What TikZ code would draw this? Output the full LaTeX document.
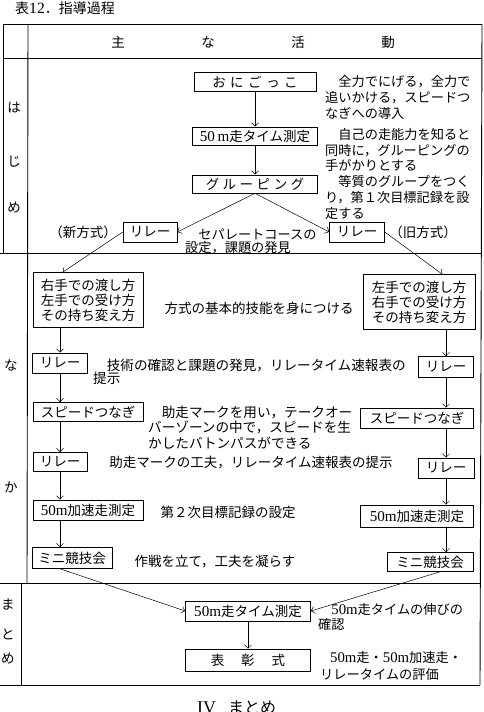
\documentclass[tikz,border=0pt]{standalone}
\usepackage{fontspec}
\setmainfont{Noto Sans CJK JP}
\newfontfamily\latf[Scale=1.12]{Liberation Serif}
\usetikzlibrary{arrows.meta}
\newcommand\gapsp[1]{\hspace{#1pt}}
\begin{document}
\begin{tikzpicture}[x=1pt,y=-1pt,
  tbl/.style={line width=0.9pt},
  bx/.style={draw,line width=0.6pt,inner sep=0pt,font=\fontsize{13.5}{15}\selectfont},
  txt/.style={inner sep=0pt,align=left,font=\fontsize{13.5}{16}\selectfont},
  arr/.style={line width=0.5pt,-{Straight Barb[length=3.5pt,width=7pt]}}]
\useasboundingbox (0,0) rectangle (484,712);
% table
\draw[tbl] (3,24) -- (482,24);
\draw[tbl] (3,24) -- (3,253);
\draw[tbl] (3,58) -- (482,58);
\draw[tbl] (0,253) -- (482,253);
\draw[tbl] (0,583) -- (481,583);
\draw[tbl] (0,685) -- (480,685);
\draw[tbl] (482,24) -- (480,685);
\draw[tbl] (28,24) -- (27,583);
\draw[tbl] (21,583) -- (21,685);
% title and headers
\node[txt,anchor=west,font=\fontsize{14}{16}\selectfont] (title) at (15,8) {表{\latf 12}．指導過程};
\node[txt] (h1) at (118,42) {主};
\node[txt] (h2) at (208,42) {な};
\node[txt] (h3) at (298,42) {活};
\node[txt] (h4) at (388,42) {動};
\node[txt] (s1) at (14,108) {は};
\node[txt] (s2) at (14,162) {じ};
\node[txt] (s3) at (14,208) {め};
\node[txt] (s4) at (11,365) {な};
\node[txt] (s5) at (11,487) {か};
\node[txt] (s6) at (8,604) {ま};
\node[txt] (s7) at (8,634) {と};
\node[txt] (s8) at (8,659) {め};
% boxes: hajime
\node[bx,minimum width=122,minimum height=19] (oni) at (255,82) {お\gapsp{4.5}に\gapsp{4.5}ご\gapsp{4.5}っ\gapsp{4.5}こ};
\node[bx,minimum width=125,minimum height=18] (t50a) at (255,136) {{\latf 50\,m}走タイム測定};
\node[bx,minimum width=125,minimum height=18] (grp) at (255,184) {グ\gapsp{3.5}ル\gapsp{3.5}ー\gapsp{3.5}ピ\gapsp{3.5}ン\gapsp{3.5}グ};
\node[bx,minimum width=54,minimum height=20] (relL) at (150,232) {リレー};
\node[bx,minimum width=55,minimum height=20] (relR) at (357,232) {リレー};
% boxes: naka left
\node[bx,minimum width=110,minimum height=55,align=center] (handL) at (88,300) {右手での渡し方\\左手での受け方\\その持ち変え方};
\node[bx,minimum width=55,minimum height=20] (relL2) at (60,363) {リレー};
\node[bx,minimum width=110,minimum height=19] (spdL) at (88,412) {スピードつなぎ};
\node[bx,minimum width=54,minimum height=19] (relL3) at (60,462) {リレー};
\node[bx,minimum width=110,minimum height=20] (accL) at (88,510) {{\latf 50m}加速走測定};
\node[bx,minimum width=80,minimum height=21] (miniL) at (72,558) {ミニ競技会};
% boxes: naka right
\node[bx,minimum width=112,minimum height=55,align=center] (handR) at (419,302) {左手での渡し方\\右手での受け方\\その持ち変え方};
\node[bx,minimum width=55,minimum height=21] (relR2) at (446,367) {リレー};
\node[bx,minimum width=113,minimum height=20] (spdR) at (417,418) {スピードつなぎ};
\node[bx,minimum width=56,minimum height=20] (relR3) at (446,468) {リレー};
\node[bx,minimum width=113,minimum height=22] (accR) at (417,516) {{\latf 50m}加速走測定};
\node[bx,minimum width=86,minimum height=19] (miniR) at (430,562) {ミニ競技会};
% boxes: matome
\node[bx,minimum width=125,minimum height=20] (t50b) at (248,611) {{\latf 50m}走タイム測定};
\node[bx,minimum width=125,minimum height=22] (award) at (248,660) {表\gapsp{17}彰\gapsp{17}式};
% texts
\node[txt,anchor=north west,font=\fontsize{13.2}{16}\selectfont] (c1) at (325,75.5) {　全力でにげる，全力で\\追いかける，スピードつ\\なぎへの導入};
\node[txt,anchor=north west,font=\fontsize{13.2}{15.5}\selectfont] (c2) at (325,128.5) {　自己の走能力を知ると\\同時に，グルーピングの\\手がかりとする};
\node[txt,anchor=north west,font=\fontsize{13.2}{16}\selectfont] (c3) at (325,175.5) {　等質のグループをつく\\り，第１次目標記録を設\\定する};
\node[txt] (nw) at (83,232) {（新方式）};
\node[txt] (ow) at (423,232) {（旧方式）};
\node[txt,anchor=north west,font=\fontsize{13.2}{13.5}\selectfont] (c4) at (185,228.5) {　セパレートコースの\\設定，課題の発見};
\node[txt] (c5) at (259,308) {方式の基本的技能を身につける};
\node[txt,anchor=north west,font=\fontsize{13.6}{13.5}\selectfont] (c6) at (93,358.5) {　技術の確認と課題の発見，リレータイム速報表の\\提示};
\node[txt,anchor=north west,font=\fontsize{13.6}{15.5}\selectfont] (c7) at (148,405.5) {　助走マークを用い，テークオー\\バーゾーンの中で，スピードを生\\かしたバトンパスができる};
\node[txt] (c8) at (251,463) {助走マークの工夫，リレータイム速報表の提示};
\node[txt] (c9) at (228,512) {第２次目標記録の設定};
\node[txt] (c10) at (215,562) {作戦を立て，工夫を凝らす};
\node[txt,anchor=north west,font=\fontsize{13.2}{15}\selectfont] (c11) at (318,603.5) {　{\latf 50m}走タイムの伸びの\\確認};
\node[txt,anchor=north west,font=\fontsize{13.2}{17}\selectfont] (c12) at (320,651.5) {\gapsp{10}{\latf 50m}走・{\latf 50m}加速走・\\リレータイムの評価};
\node[txt,anchor=west,font=\fontsize{16}{18}\selectfont] (sec) at (197,708) {{\latf IV}\gapsp{12}まとめ};
% arrows
\draw[arr] (oni.south) -- (t50a.north);
\draw[arr] (t50a.south) -- (grp.north);
\draw[arr] (grp.south) -- (relL.east);
\draw[arr] (grp.south) -- (relR.west);
\draw[arr] (relL.west) -- ([xshift=30pt]handL.north west);
\draw[arr] (relR.east) -- ([xshift=-33pt]handR.north east);
\draw[arr] (relL2.north |- handL.south) -- (relL2.north);
\draw[arr] (relL2.south) -- (relL2.south |- spdL.north);
\draw[arr] (relL3.north |- spdL.south) -- (relL3.north);
\draw[arr] (relL3.south) -- (relL3.south |- accL.north);
\draw[arr] (relL3.south |- accL.south) -- (relL3.south |- miniL.north);
\draw[arr] (relR2.north |- handR.south) -- (relR2.north);
\draw[arr] (relR2.south) -- (relR2.south |- spdR.north);
\draw[arr] (relR3.north |- spdR.south) -- (relR3.north);
\draw[arr] (relR3.south) -- (relR3.south |- accR.north);
\draw[arr] (relR3.south |- accR.south) -- (relR3.south |- miniR.north);
\draw[arr] (miniL.south -| relL3) -- (t50b.west);
\draw[arr] ([xshift=10pt]miniR.south) -- (t50b.east);
\draw[arr] (t50b.south) -- (award.north);
\end{tikzpicture}
\end{document}
